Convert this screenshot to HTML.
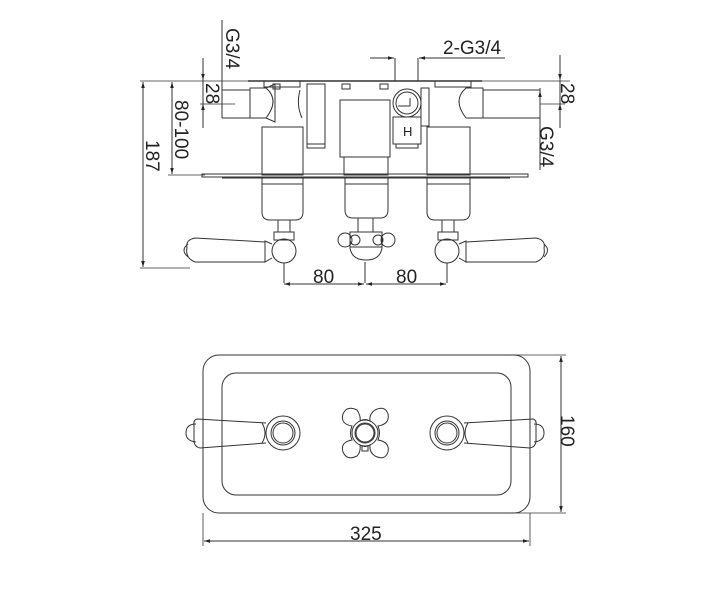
<!DOCTYPE html>
<html><head><meta charset="utf-8"><style>
html,body{margin:0;padding:0;background:#fff;}
svg{display:block;}
text{font-family:"Liberation Sans",sans-serif;fill:#222;}
</style></head><body>
<svg width="703" height="590" viewBox="0 0 703 590" xmlns="http://www.w3.org/2000/svg">
<defs>
<marker id="a" viewBox="0 0 10 10" refX="10" refY="5" markerWidth="6" markerHeight="6" orient="auto-start-reverse"><path d="M0,2 L10,5 L0,8 z" fill="#222"/></marker>
</defs>
<g fill="none" stroke="#333" stroke-width="1">
<line x1="140" y1="81" x2="570" y2="81" stroke-width="0.8"/>
<line x1="140" y1="268" x2="190" y2="268" stroke-width="0.8"/>
<line x1="168" y1="175" x2="205" y2="175" stroke-width="0.8"/>
<line x1="143" y1="82" x2="143" y2="267" marker-start="url(#a)" marker-end="url(#a)"/>
<line x1="172" y1="82" x2="172" y2="174" marker-start="url(#a)" marker-end="url(#a)"/>
<line x1="203" y1="58" x2="203" y2="128"/>
<line x1="203" y1="68" x2="203" y2="80" marker-end="url(#a)"/>
<line x1="203" y1="115" x2="203" y2="104" marker-end="url(#a)"/>
<line x1="200" y1="104" x2="235" y2="104" stroke-width="0.8"/>
<line x1="222" y1="20" x2="222" y2="118"/>
<line x1="222" y1="90" x2="250" y2="90"/>
<line x1="222" y1="118" x2="250" y2="118"/>
<path d="M250,88 L266,88 Q280,100 266,118 L250,118 z"/>
<path d="M266,88 L275,84 L275,122 L266,118"/>
<rect x="264" y="81" width="36" height="6"/>
<rect x="273" y="84" width="7" height="5"/>
<rect x="262" y="127" width="41" height="48"/>
<path d="M262,178 L262,212 Q262,220 270,220 L295,220 Q303,220 303,212 L303,178"/>
<line x1="262" y1="184" x2="303" y2="184"/>
<rect x="278" y="220" width="12" height="12"/>
<rect x="274" y="232" width="20" height="8"/>
<circle cx="284" cy="251" r="12"/>
<line x1="284" y1="263" x2="284" y2="283"/>
<path d="M272,244 L265,241 L265,262 L272,258"/>
<path d="M265,242 L195,238 Q185,240 187,248 Q185,258 195,262 L265,262"/>
<path d="M188,244 Q180,250 188,257"/>
<rect x="307" y="84" width="18" height="60"/>
<path d="M300,90 Q296,105 302,118"/>
<path d="M307,144 L307,148 L325,148 L325,144"/>
<rect x="340" y="100" width="50" height="57"/>
<rect x="344" y="157" width="44" height="18"/>
<path d="M345,178 L345,210 Q345,218 353,218 L380,218 Q388,218 388,210 L388,178"/>
<line x1="345" y1="184" x2="388" y2="184"/>
<rect x="358" y="218" width="15" height="14"/>
<circle cx="345" cy="240" r="7"/>
<circle cx="388" cy="240" r="7"/>
<circle cx="355" cy="240" r="5"/>
<circle cx="378" cy="240" r="5"/>
<path d="M350,232 L382,232 L382,248 Q380,260 366,260 Q352,260 350,248 z"/>
<line x1="350" y1="247" x2="382" y2="247"/>
<line x1="365" y1="262" x2="365" y2="283"/>
<rect x="342" y="84" width="8" height="5"/>
<rect x="380" y="84" width="8" height="5"/>
<line x1="395" y1="58" x2="395" y2="81"/>
<line x1="418" y1="58" x2="418" y2="81"/>
<circle cx="407" cy="103" r="14"/>
<circle cx="407" cy="103" r="11"/>
<path d="M398,106 L410,106 L410,98"/>
<rect x="393" y="117" width="28" height="27"/>
<path d="M396,144 L396,148 L418,148 L418,144"/>
<rect x="421" y="88" width="8" height="38"/>
<rect x="427" y="127" width="43" height="48"/>
<path d="M427,178 L427,212 Q427,220 435,220 L462,220 Q470,220 470,212 L470,178"/>
<line x1="427" y1="184" x2="470" y2="184"/>
<rect x="442" y="220" width="12" height="12"/>
<rect x="438" y="232" width="20" height="8"/>
<circle cx="447" cy="251" r="12"/>
<line x1="447" y1="263" x2="447" y2="283"/>
<path d="M459,244 L466,241 L466,262 L459,258"/>
<path d="M466,242 L536,238 Q546,240 544,248 Q546,258 536,262 L466,262"/>
<path d="M544,244 Q551,250 544,257"/>
<path d="M483,88 L466,88 Q452,100 466,118 L483,118 z"/>
<rect x="435" y="81" width="36" height="6"/>
<line x1="483" y1="90" x2="540" y2="90"/>
<line x1="483" y1="118" x2="540" y2="118"/>
<line x1="540" y1="88" x2="540" y2="170"/>
<line x1="540" y1="100" x2="540" y2="91" marker-end="url(#a)"/>
<line x1="560" y1="55" x2="560" y2="128"/>
<line x1="560" y1="68" x2="560" y2="80" marker-end="url(#a)"/>
<line x1="560" y1="115" x2="560" y2="104" marker-end="url(#a)"/>
<line x1="540" y1="104" x2="565" y2="104" stroke-width="0.8"/>
<line x1="370" y1="58" x2="394" y2="58" marker-end="url(#a)"/>
<line x1="505" y1="58" x2="419" y2="58" marker-end="url(#a)"/>
<line x1="248" y1="81" x2="482" y2="81" stroke-width="1.5"/>
<rect x="202" y="174" width="326" height="3"/>
<line x1="222" y1="178" x2="510" y2="178"/>
<line x1="284" y1="284" x2="364" y2="284" marker-start="url(#a)" marker-end="url(#a)"/>
<line x1="366" y1="284" x2="446" y2="284" marker-start="url(#a)" marker-end="url(#a)"/>
<rect x="203" y="355" width="327" height="158" rx="16"/>
<rect x="222" y="373" width="289" height="122" rx="14"/>
<circle cx="283" cy="433" r="17"/>
<circle cx="283" cy="433" r="12"/>
<circle cx="283" cy="433" r="10"/>
<path d="M266,423 L197,419 Q193,420 194,426 L194,442 Q195,447 200,448 L266,443"/>
<path d="M262,423 Q268,433 262,443"/>
<path d="M196,424 Q186,424 186,433 Q186,441 196,442"/>
<circle cx="447" cy="433" r="17"/>
<circle cx="447" cy="433" r="12"/>
<circle cx="447" cy="433" r="10"/>
<path d="M464,423 L533,419 Q537,420 536,426 L536,442 Q535,447 530,448 L464,443"/>
<path d="M468,423 Q462,433 468,443"/>
<path d="M534,424 Q544,424 544,433 Q544,441 534,442"/>
<path d="M352,426 Q340,424 343,414 Q347,405 357,410 Q361,416 360,421 Q365,418 370,421 Q369,414 375,410 Q385,405 388,414 Q390,424 378,426 Q381,433 378,440 Q390,442 388,452 Q385,461 375,456 Q369,452 370,445 Q365,448 360,445 Q361,452 357,456 Q347,461 343,452 Q340,442 352,440 Q349,433 352,426 z"/>
<circle cx="365" cy="433" r="13"/>
<circle cx="365" cy="433" r="10"/>
<circle cx="365" cy="433" r="9"/>
<rect x="362" y="446" width="6" height="5"/>
<line x1="510" y1="355" x2="566" y2="355" stroke-width="0.8"/>
<line x1="510" y1="513" x2="566" y2="513" stroke-width="0.8"/>
<line x1="561" y1="356" x2="561" y2="512" marker-start="url(#a)" marker-end="url(#a)"/>
<line x1="203" y1="513" x2="203" y2="546" stroke-width="0.8"/>
<line x1="530" y1="513" x2="530" y2="546" stroke-width="0.8"/>
<line x1="204" y1="541" x2="529" y2="541" marker-start="url(#a)" marker-end="url(#a)"/>
</g>
<text x="0" y="0" font-size="19" transform="translate(226,28) rotate(90)">G3/4</text>
<text x="0" y="0" font-size="19" transform="translate(206,83) rotate(90)">28</text>
<text x="0" y="0" font-size="19" transform="translate(175,100) rotate(90)">80-100</text>
<text x="0" y="0" font-size="19" transform="translate(146,140) rotate(90)">187</text>
<text x="0" y="0" font-size="19" transform="translate(561,83) rotate(90)">28</text>
<text x="0" y="0" font-size="19" transform="translate(540,126) rotate(90)">G3/4</text>
<text x="0" y="0" font-size="19" transform="translate(561,415) rotate(90)">160</text>
<text x="443" y="54" font-size="19">2-G3/4</text>
<text x="403" y="136" font-size="13">H</text>
<text x="313" y="283" font-size="19">80</text>
<text x="396" y="283" font-size="19">80</text>
<text x="350" y="540" font-size="19">325</text>
</svg>
</body></html>
